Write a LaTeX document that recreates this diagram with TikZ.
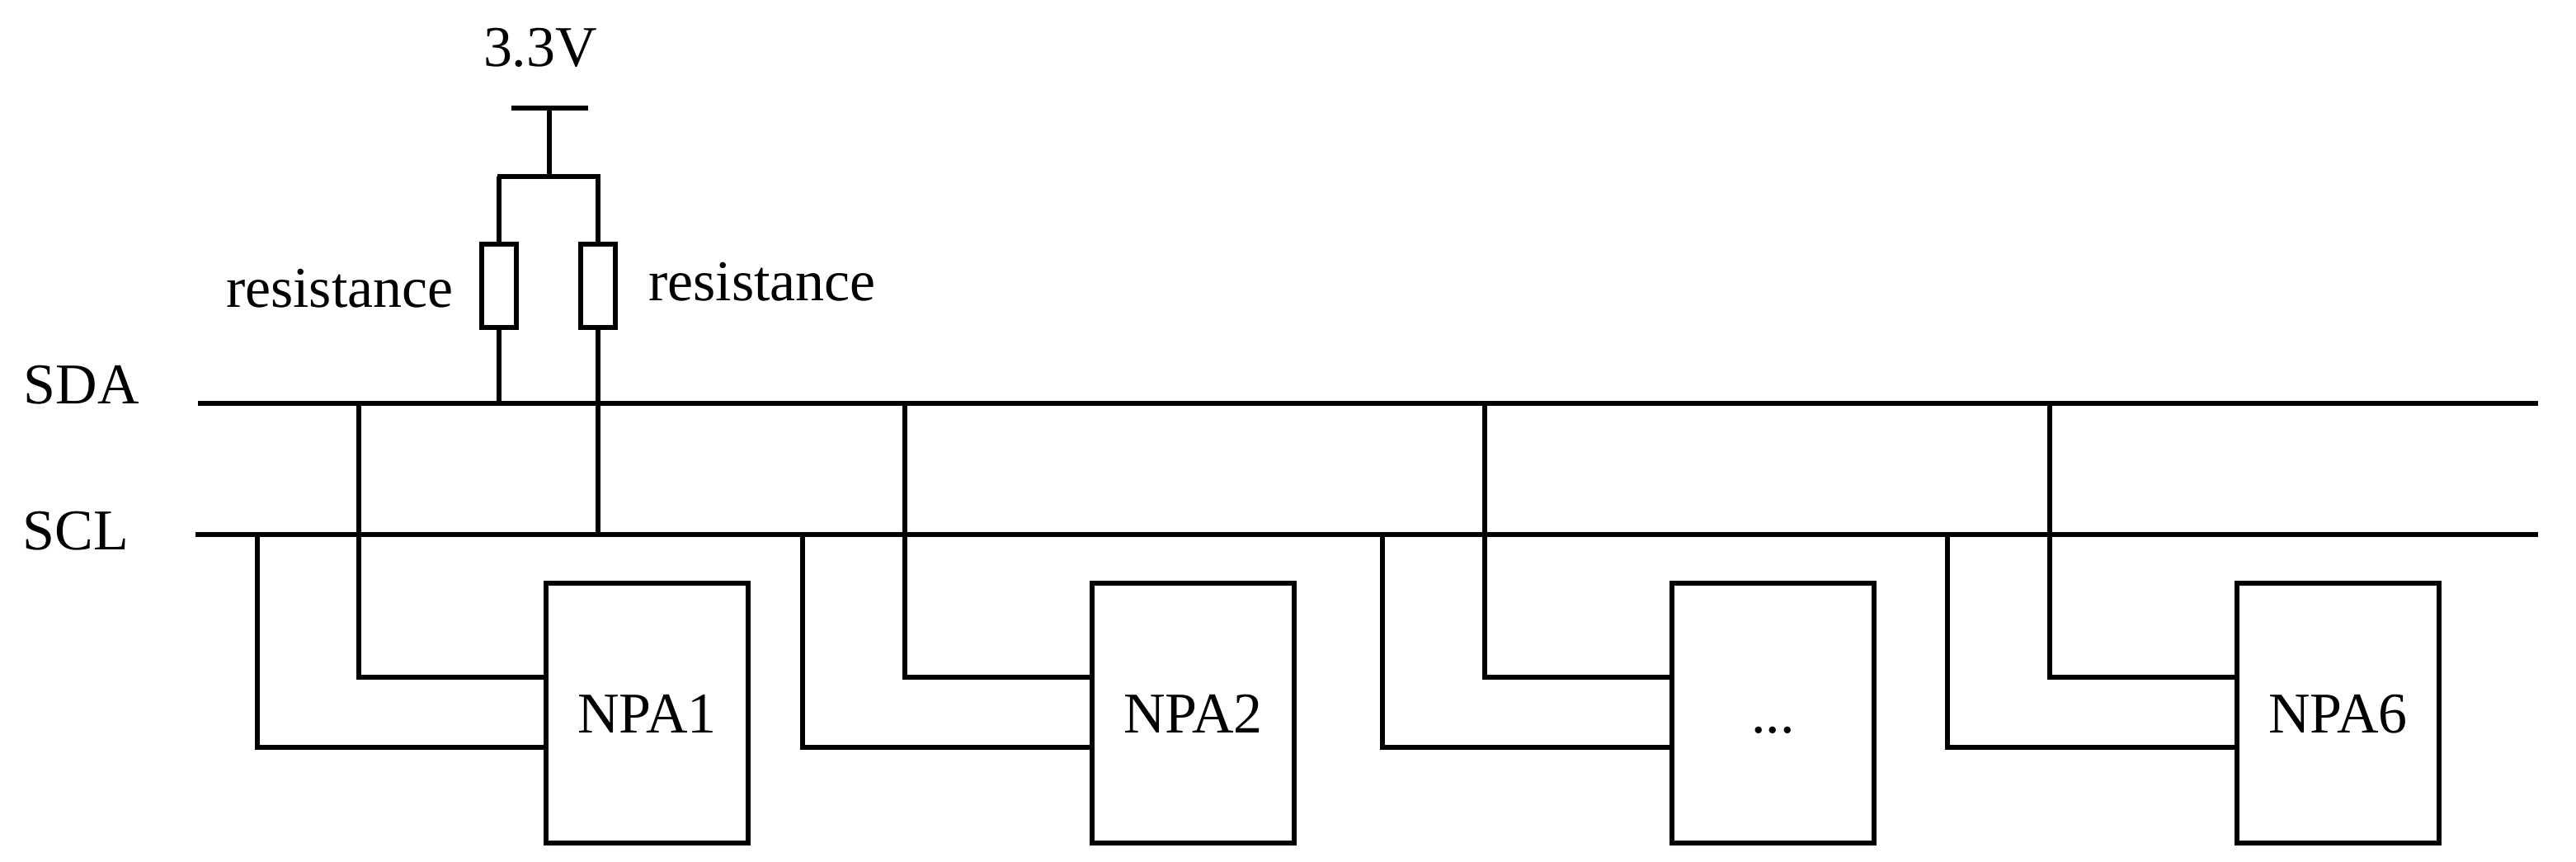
\documentclass[tikz,border=0pt]{standalone}
\usepackage{fontspec}
\setmainfont{Liberation Serif}
\usetikzlibrary{positioning}
\tikzset{
  wire/.style={line width=1.45pt, line join=miter, line cap=rect},
  label/.style={inner sep=0pt, outer sep=0pt, anchor=base west, font=\fontsize{19.9}{24}\selectfont},
  chipbox/.style={draw, line width=1.5pt, inner sep=0pt, outer sep=0pt, minimum width=2.45cm, minimum height=3.15cm, text height=0.47cm, text depth=0pt, font=\fontsize{19.9}{24}\selectfont},
  resbox/.style={draw, line width=1.5pt, inner sep=0pt, outer sep=0pt, minimum width=0.42cm, minimum height=1.01cm}
}

\begin{document}
\begin{tikzpicture}
  \useasboundingbox (0,0) rectangle (31.23,-10.44);

  \coordinate (sdaL) at (2.43,-4.89) ;
  \coordinate[right=28.31cm] (sdaR) at (sdaL) ;
  \coordinate (sclL) at (2.40,-6.48) ;
  \coordinate[right=28.34cm] (sclR) at (sclL) ;

  \coordinate (vcc) at (6.66,-1.31) ;
  \coordinate[left=0.43cm] (vccL) at (vcc) ;
  \coordinate[right=0.44cm] (vccR) at (vcc) ;
  \coordinate[below=0.83cm] (fork) at (vcc) ;
  \coordinate[left=0.63cm] (forkL) at (fork) ;
  \coordinate[right=0.58cm] (forkR) at (fork) ;

  \node[resbox] (res1) at (6.05,-3.465) {};
  \node[resbox] (res2) at (7.25,-3.465) {};
  \coordinate (res1b) at (res1 |- sdaL) ;
  \coordinate (res2b) at (res2 |- sclL) ;

  \node[chipbox] (npa1) at (7.845,-8.645) {NPA1};
  \node[chipbox] (npa2) at (14.465,-8.645) {NPA2};
  \node[chipbox] (npa3) at (21.495,-8.645) {...};
  \node[chipbox] (npa6) at (28.345,-8.645) {NPA6};

  \coordinate[above=0.435cm] (npa1a) at (npa1.west) ;
  \coordinate[below=0.415cm] (npa1b) at (npa1.west) ;
  \coordinate[above=0.435cm] (npa2a) at (npa2.west) ;
  \coordinate[below=0.415cm] (npa2b) at (npa2.west) ;
  \coordinate[above=0.435cm] (npa3a) at (npa3.west) ;
  \coordinate[below=0.415cm] (npa3b) at (npa3.west) ;
  \coordinate[above=0.435cm] (npa6a) at (npa6.west) ;
  \coordinate[below=0.415cm] (npa6b) at (npa6.west) ;

  \coordinate (sda1) at (4.35,-4.89) ;
  \coordinate (sda2) at (10.97,-4.89) ;
  \coordinate (sda3) at (18.00,-4.89) ;
  \coordinate (sda6) at (24.85,-4.89) ;
  \coordinate (scl1) at (3.12,-6.48) ;
  \coordinate (scl2) at (9.73,-6.48) ;
  \coordinate (scl3) at (16.76,-6.48) ;
  \coordinate (scl6) at (23.61,-6.48) ;

  \draw[wire] (sdaL) -- (sdaR);
  \draw[wire] (sclL) -- (sclR);

  \draw[wire] (vccL) -- (vccR);
  \draw[wire] (vcc) -- (fork);
  \draw[wire] (res1.north) |- (forkL) -- (forkR) -| (res2.north);
  \draw[wire] (res1.south) -- (res1b);
  \draw[wire] (res2.south) -- (res2b);

  \draw[wire] (sda1) |- (npa1a);
  \draw[wire] (scl1) |- (npa1b);
  \draw[wire] (sda2) |- (npa2a);
  \draw[wire] (scl2) |- (npa2b);
  \draw[wire] (sda3) |- (npa3a);
  \draw[wire] (scl3) |- (npa3b);
  \draw[wire] (sda6) |- (npa6a);
  \draw[wire] (scl6) |- (npa6b);

  \node[label] (vlab) at (5.86,-0.80) {3.3V};
  \node[label] (res1lab) at (2.74,-3.72) {resistance};
  \node[label] (res2lab) at (7.86,-3.64) {resistance};
  \node[label] (sdalab) at (0.29,-4.89) {SDA};
  \node[label] (scllab) at (0.28,-6.66) {SCL};

\end{tikzpicture}
\end{document}
